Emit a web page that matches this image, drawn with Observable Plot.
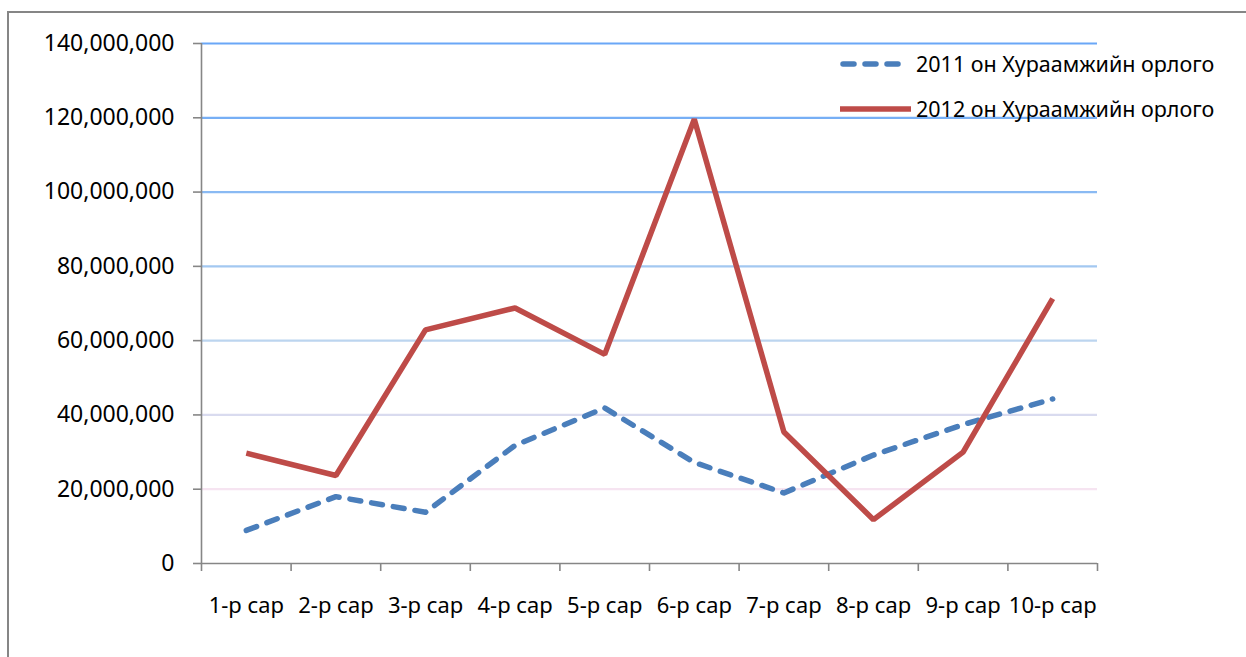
<!DOCTYPE html>
<html>
<head>
<meta charset="utf-8">
<script src="https://cdn.jsdelivr.net/npm/d3@7"></script>
<script src="https://cdn.jsdelivr.net/npm/@observablehq/plot@0.6"></script>
<style>
  html, body { margin: 0; padding: 0; background: #fff; overflow: hidden; }
  #wrap { position: relative; width: 1246px; height: 657px; }
  #frame { position: absolute; left: 7px; top: 11px; width: 1300px; height: 700px;
           border-left: 2px solid #868686; border-top: 2px solid #868686; pointer-events: none; }
</style>
</head>
<body>
<div id="wrap"><div id="frame"></div></div>
<script>
const months = ["1-р сар","2-р сар","3-р сар","4-р сар","5-р сар","6-р сар","7-р сар","8-р сар","9-р сар","10-р сар"];
const series2011 = [8.9e6, 18.0e6, 13.8e6, 31.8e6, 41.9e6, 27.2e6, 19.0e6, 29.2e6, 37.4e6, 44.3e6];
const series2012 = [29.7e6, 23.7e6, 62.9e6, 68.8e6, 56.3e6, 119.6e6, 35.4e6, 11.8e6, 30.0e6, 71.3e6];
const seriesNames = ["2011 он Хураамжийн орлого", "2012 он Хураамжийн орлого"];
const yTicks = [0, 20e6, 40e6, 60e6, 80e6, 100e6, 120e6, 140e6];

const gridColors = ["#f6e4f1", "#d9dbef", "#bcd5ef", "#a3c8f1", "#8abaf3", "#77aff5", "#6aa7f7"];
const font = "'Noto Sans', sans-serif";

const rows2011 = months.map((m, i) => ({i: i + 0.5, v: series2011[i]}));
const rows2012 = months.map((m, i) => ({i: i + 0.5, v: series2012[i]}));
const edges = d3.range(months.length + 1);
const centers = months.map((m, i) => i + 0.5);
const grid = yTicks.slice(1).map((v, k) => ({v, c: gridColors[k]}));
const fmt = d3.format(",");

const plot = Plot.plot({
  width: 1246,
  height: 657,
  marginLeft: 201,
  marginRight: 149,
  marginTop: 43,
  marginBottom: 94,
  style: {fontFamily: font, fontSize: "22px", color: "#000", background: "transparent", overflow: "visible"},
  x: {type: "linear", domain: [0, months.length], axis: null},
  y: {domain: [0, 140e6], axis: null},
  marks: [
    Plot.ruleY(grid, {y: "v", stroke: "c", strokeWidth: 2.2}),
    Plot.ruleX([0], {y1: 0, y2: 140e6, stroke: "#868686", strokeWidth: 1.6}),
    Plot.ruleY([0], {x1: 0, x2: months.length, stroke: "#868686", strokeWidth: 1.6}),
    Plot.axisY(yTicks, {tickSize: 8, tickPadding: 19, tickFormat: fmt, stroke: "#868686",
      strokeWidth: 1.6, strokeOpacity: 1, fill: "#000", fontSize: 23, label: null}),
    Plot.axisX(edges, {tickSize: 8, tickFormat: () => "", stroke: "#868686",
      strokeWidth: 1.6, strokeOpacity: 1, label: null}),
    Plot.text(centers, {x: d => d, y: 0, text: (d, i) => months[i], dy: 42, fontSize: 22,
      fill: "#000"}),
    Plot.line(rows2011, {x: "i", y: "v", stroke: "#4a7ebb", strokeWidth: 5.5,
      strokeDasharray: "11,11", strokeLinecap: "round", strokeLinejoin: "round"}),
    Plot.line(rows2012, {x: "i", y: "v", stroke: "#be4b48", strokeWidth: 5.5,
      strokeLinecap: "butt", strokeLinejoin: "miter"})
  ]
});

plot.style.position = "absolute";
plot.style.left = "0px";
plot.style.top = "0px";
document.getElementById("wrap").appendChild(plot);

const svg = d3.select(plot);
const leg = svg.append("g").attr("font-family", font).attr("font-size", 21.5).attr("text-anchor", "start");
const legendItems = [
  {name: seriesNames[0], stroke: "#4a7ebb", dash: "11,11", cap: "round", y: 64, x1: 843, x2: 906},
  {name: seriesNames[1], stroke: "#be4b48", dash: null, cap: "butt", y: 109, x1: 840, x2: 911}
];
legendItems.forEach(d => {
  const g = leg.append("g");
  g.append("line").attr("x1", d.x1).attr("x2", d.x2)
    .attr("y1", d.y).attr("y2", d.y)
    .attr("stroke", d.stroke).attr("stroke-width", 5.5)
    .attr("stroke-linecap", d.cap).attr("stroke-dasharray", d.dash);
  g.append("text").attr("x", 916).attr("y", d.y).attr("dy", "0.35em")
    .attr("text-anchor", "start").attr("fill", "#000").text(d.name);
});
</script>
</body>
</html>
